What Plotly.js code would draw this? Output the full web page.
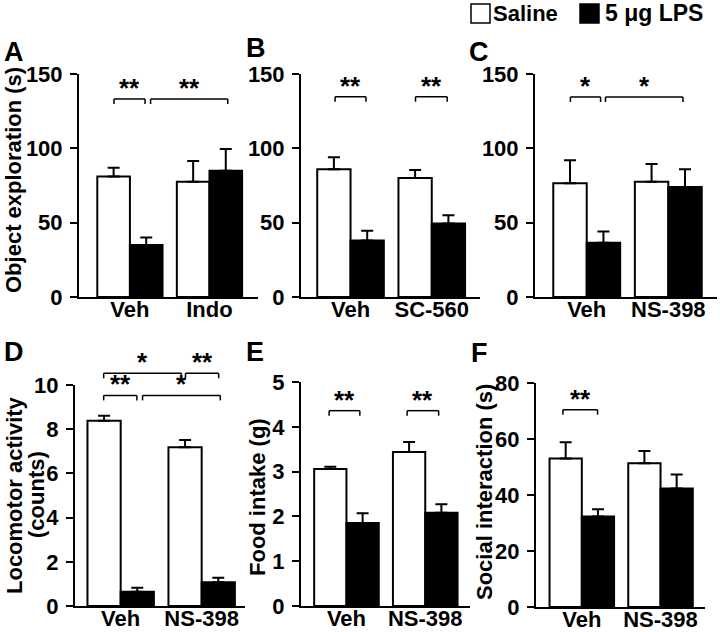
<!DOCTYPE html>
<html>
<head>
<meta charset="utf-8">
<script src="https://cdn.plot.ly/plotly-3.0.1.min.js"></script>
<style>html,body{margin:0;padding:0;background:#fff;}#chart{width:720px;height:632px;}</style>
</head>
<body>
<div id="chart"></div>
<script>
// ---------- data ----------
const groupsA = ["Veh", "Indo"];
const salineA = [81, 77.5];
const salineErrA = [6, 14];
const lpsA = [35, 85];
const lpsErrA = [5, 14.5];

const groupsB = ["Veh", "SC-560"];
const salineB = [86, 80];
const salineErrB = [8, 5.5];
const lpsB = [38, 49.5];
const lpsErrB = [6.5, 5.5];

const groupsC = ["Veh", "NS-398"];
const salineC = [76.5, 77.5];
const salineErrC = [15.5, 12];
const lpsC = [36.5, 74];
const lpsErrC = [7.5, 12];

const groupsD = ["Veh", "NS-398"];
const salineD = [8.38, 7.18];
const salineErrD = [0.23, 0.33];
const lpsD = [0.65, 1.07];
const lpsErrD = [0.18, 0.21];

const groupsE = ["Veh", "NS-398"];
const salineE = [3.06, 3.44];
const salineErrE = [0.05, 0.22];
const lpsE = [1.85, 2.08];
const lpsErrE = [0.22, 0.19];

const groupsF = ["Veh", "NS-398"];
const salineF = [53, 51.3];
const salineErrF = [5.8, 4.4];
const lpsF = [32.3, 42.3];
const lpsErrF = [2.6, 5];

const seriesNames = ["Saline", "5 \u03bcg LPS"];
const panelLetters = ["A", "B", "C", "D", "E", "F"];
// y-axis titles, one entry per title line
const yTitles = [["Object exploration (s)"], [], [], ["Locomotor activity", "(counts)"], ["Food intake (g)"], ["Social interaction (s)"]];
const yMax = [150, 150, 150, 10, 5, 80];
const yStep = [50, 50, 50, 2, 1, 20];

// significance brackets: [label, from, to, level (fraction of axis height)]
const sigA = [["**", -0.2, 0.19, 0.888], ["**", 0.26, 1.23, 0.888]];
const sigB = [["**", -0.19, 0.19, 0.898], ["**", 0.8, 1.19, 0.898]];
const sigC = [["*", -0.2, 0.17, 0.897], ["*", 0.23, 1.18, 0.897]];
const sigD = [["*", -0.21, 0.75, 1.053], ["**", 0.8, 1.21, 1.053], ["**", -0.21, 0.2, 0.953], ["*", 0.27, 1.23, 0.953]];
const sigE = [["**", -0.22, 0.17, 0.872], ["**", 0.77, 1.17, 0.872]];
const sigF = [["**", -0.24, 0.2, 0.881]];

// ---------- layout geometry (pixels) ----------
const W = 720, H = 632;
const panels = [
  {g: groupsA, s: salineA, se: salineErrA, l: lpsA, le: lpsErrA, sig: sigA, px: [79, 258], py: [74, 297], xr: [-0.64, 1.61], letter: [2, 52], tx: [14], ty: 180},
  {g: groupsB, s: salineB, se: salineErrB, l: lpsB, le: lpsErrB, sig: sigB, px: [301, 480], py: [74, 297], xr: [-0.61, 1.594], letter: [244, 48]},
  {g: groupsC, s: salineC, se: salineErrC, l: lpsC, le: lpsErrC, sig: sigC, px: [535, 717], py: [74, 297], xr: [-0.634, 1.597], letter: [467, 52]},
  {g: groupsD, s: salineD, se: salineErrD, l: lpsD, le: lpsErrD, sig: sigD, px: [75, 245], py: [385, 606], xr: [-0.564, 1.535], letter: [2, 352], tx: [14, 36], ty: 495},
  {g: groupsE, s: salineE, se: salineErrE, l: lpsE, le: lpsErrE, sig: sigE, px: [301, 470], py: [382, 606], xr: [-0.577, 1.568], letter: [244, 352], tx: [257], ty: 497},
  {g: groupsF, s: salineF, se: salineErrF, l: lpsF, le: lpsErrF, sig: sigF, px: [536, 705], py: [383, 607], xr: [-0.582, 1.565], letter: [469, 353], tx: [484], ty: 492}
];

const FONT = "Liberation Sans, Arial, Helvetica, sans-serif";
const data = [];
const layout = {
  width: W, height: H,
  margin: {l: 0, r: 0, t: 0, b: 0, autoexpand: false},
  paper_bgcolor: "white", plot_bgcolor: "white",
  showlegend: false,
  barmode: "group", bargap: 0.18, bargroupgap: 0,
  font: {family: FONT, color: "black"},
  shapes: [], annotations: []
};

panels.forEach((p, i) => {
  const n = i === 0 ? "" : String(i + 1);
  const xa = "x" + n, ya = "y" + n;
  const zeros = p.g.map(() => 0);
  data.push({
    type: "bar", name: seriesNames[0], x: p.g, y: p.s, xaxis: xa, yaxis: ya,
    marker: {color: "white", line: {color: "black", width: 2}},
    error_y: {type: "data", symmetric: false, array: p.se, arrayminus: zeros, color: "black", thickness: 2, width: 6}
  });
  data.push({
    type: "bar", name: seriesNames[1], x: p.g, y: p.l, xaxis: xa, yaxis: ya,
    marker: {color: "black", line: {color: "black", width: 2}},
    error_y: {type: "data", symmetric: false, array: p.le, arrayminus: zeros, color: "black", thickness: 2, width: 6}
  });
  layout["xaxis" + n] = {
    domain: [p.px[0] / W, p.px[1] / W], anchor: ya, type: "category", range: p.xr,
    showline: true, linecolor: "black", linewidth: 2, ticks: "", showgrid: false, zeroline: false,
    automargin: false, ticklabelstandoff: -8,
    tickfont: {family: FONT, size: 22, color: "black", weight: "bold"}, fixedrange: true
  };
  layout["yaxis" + n] = {
    domain: [(H - p.py[1]) / H, (H - p.py[0]) / H], anchor: xa, range: [0, yMax[i]], dtick: yStep[i], tick0: 0,
    showline: true, linecolor: "black", linewidth: 2, ticks: "outside", ticklen: 7, tickwidth: 2, tickcolor: "black",
    showgrid: false, zeroline: false, automargin: false, ticklabelstandoff: 3,
    tickfont: {family: FONT, size: 22, color: "black", weight: "bold"}, fixedrange: true
  };
  // y-axis title (rotated text beside the axis)
  yTitles[i].forEach((line, k) => {
    layout.annotations.push({xref: "paper", yref: "paper", x: p.tx[k] / W, y: (H - p.ty) / H,
      xanchor: "center", yanchor: "middle", textangle: -90, text: line, showarrow: false, borderpad: 0,
      font: {family: FONT, size: 22, color: "black", weight: "bold"}});
  });
  // significance brackets
  const yd = ya + " domain";
  p.sig.forEach(sg => {
    const [lab, x0, x1, lv] = sg;
    const leg = 5 / (p.py[1] - p.py[0]);
    const ln = {color: "black", width: 1.5};
    layout.shapes.push({type: "line", xref: xa, yref: yd, x0: x0, x1: x1, y0: lv, y1: lv, line: ln});
    layout.shapes.push({type: "line", xref: xa, yref: yd, x0: x0, x1: x0, y0: lv, y1: lv - leg, line: ln});
    layout.shapes.push({type: "line", xref: xa, yref: yd, x0: x1, x1: x1, y0: lv, y1: lv - leg, line: ln});
    layout.annotations.push({xref: xa, yref: yd, x: (x0 + x1) / 2, y: lv, yanchor: "bottom", xanchor: "center",
      text: lab, showarrow: false, yshift: -6, font: {family: FONT, size: 26, color: "black", weight: "bold"}});
  });
  // panel letter
  layout.annotations.push({xref: "paper", yref: "paper", x: p.letter[0] / W, y: (H - p.letter[1]) / H,
    xanchor: "left", yanchor: "middle", text: panelLetters[i], showarrow: false,
    font: {family: FONT, size: 27, color: "black", weight: "bold"}});
});

// legend (drawn as layout decoration)
layout.shapes.push({type: "rect", xref: "paper", yref: "paper", x0: 471 / W, x1: 490 / W, y0: (H - 23) / H, y1: (H - 4) / H,
  fillcolor: "white", line: {color: "black", width: 1.5}});
layout.shapes.push({type: "rect", xref: "paper", yref: "paper", x0: 580 / W, x1: 599 / W, y0: (H - 23) / H, y1: (H - 4) / H,
  fillcolor: "black", line: {color: "black", width: 1.5}});
layout.annotations.push({xref: "paper", yref: "paper", x: 491 / W, y: (H - 13) / H, xanchor: "left", yanchor: "middle",
  text: seriesNames[0], showarrow: false, font: {family: FONT, size: 22, color: "black", weight: "bold"}});
layout.annotations.push({xref: "paper", yref: "paper", x: 603 / W, y: (H - 13) / H, xanchor: "left", yanchor: "middle",
  text: seriesNames[1], showarrow: false, font: {family: FONT, size: 23, color: "black", weight: "bold"}});

Plotly.newPlot("chart", data, layout, {displayModeBar: false, staticPlot: true});
</script>
</body>
</html>
